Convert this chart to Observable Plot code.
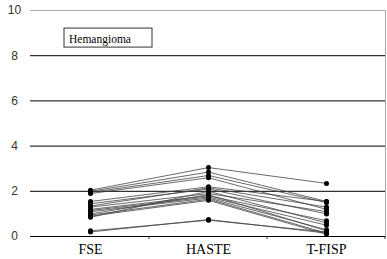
<!DOCTYPE html>
<html>
<head>
<meta charset="utf-8">
<script src="https://cdn.jsdelivr.net/npm/d3@7"></script>
<script src="https://cdn.jsdelivr.net/npm/@observablehq/plot@0.6"></script>
<style>
  html, body { margin: 0; padding: 0; background: #fff; }
  #chart { position: relative; width: 387px; height: 259px; }
  .serif, .serif text { font-family: "Liberation Serif", "DejaVu Serif", serif !important; }
  .sans, .sans text { font-family: "Liberation Sans", "DejaVu Sans", sans-serif !important; }
</style>
</head>
<body>
<div id="chart"></div>
<script>
const categories = ["FSE", "HASTE", "T-FISP"];
const yTicks = [0, 2, 4, 6, 8, 10];
const legendLabel = "Hemangioma";
// one entry per lesion: values at FSE, HASTE, T-FISP
const fse   = [2.05, 2.0, 1.95, 1.9, 1.55, 1.45, 1.35, 1.3, 1.2, 1.15, 1.1, 1.0, 0.95, 0.9, 0.85, 0.25, 0.2];
const haste = [3.05, 2.85, 2.7, 2.6, 2.2, 2.1, 2.15, 1.9, 1.8, 1.75, 1.7, 1.85, 1.65, 1.6, 2.0, 0.72, 0.75];
const tfisp = [2.35, 1.55, 1.5, 1.2, 1.55, 1.0, 1.3, 1.1, 0.7, 0.5, 0.3, 0.25, 0.15, 0.1, 0.6, 0.2, 0.15];

const rows = [];
fse.forEach((_, i) => {
  [fse[i], haste[i], tfisp[i]].forEach((v, j) => rows.push({id: i, cat: categories[j], v}));
});

const W = 387, H = 259;
const chart = Plot.plot({
  width: W, height: H,
  marginLeft: 30, marginRight: 2, marginTop: 10, marginBottom: 23,
  style: {background: "#fff", overflow: "visible"},
  x: {type: "point", domain: categories, padding: 0.5, axis: null},
  y: {domain: [0, 10], axis: null},
  marks: [
    Plot.ruleY([2, 4, 6, 8], {stroke: "#000", strokeWidth: 1}),
    Plot.ruleY([10], {stroke: "#aaa", strokeWidth: 1}),
    Plot.ruleX([0], {frameAnchor: "left", stroke: "#000"}),
    Plot.frame({anchor: "right", stroke: "#aaa"}),
    Plot.ruleY([0], {stroke: "#000", strokeWidth: 1}),
    Plot.line(rows, {x: "cat", y: "v", z: "id", stroke: "#444", strokeWidth: 0.8}),
    Plot.dot(rows, {x: "cat", y: "v", r: 2.5, fill: "#000", stroke: "none"}),
    Plot.text(yTicks, {y: d => d, text: d => String(d), frameAnchor: "left", dx: -16, textAnchor: "middle",
      fontSize: 12, fill: "#333", className: "sans"}),
    Plot.text(categories, {x: d => d, text: d => d, frameAnchor: "bottom", dy: 17,
      fontSize: 14, fill: "#000", className: "serif"})
  ]
});

// tick marks at category boundaries and legend box
const svg = d3.select(chart);
const xs = chart.scale("x");
const step = xs.apply(categories[1]) - xs.apply(categories[0]);
const y0 = chart.scale("y").apply(0);
categories.forEach(c => {
  const bx = xs.apply(c) + step / 2;
  svg.append("line").attr("x1", bx).attr("x2", bx).attr("y1", y0).attr("y2", y0 + 3)
    .attr("stroke", "#000").attr("stroke-width", 0.8);
});
const ys = chart.scale("y");
const lgTop = ys.apply(9.2);
svg.append("rect").attr("x", 64).attr("y", lgTop).attr("width", 88).attr("height", 19)
  .attr("fill", "#fff").attr("stroke", "#333").attr("stroke-width", 1);
svg.append("text").attr("class", "serif").attr("x", 69).attr("y", lgTop + 15).attr("text-anchor", "start")
  .attr("font-size", 11.5).attr("fill", "#000").text(legendLabel);

document.getElementById("chart").appendChild(chart);
</script>
</body>
</html>
